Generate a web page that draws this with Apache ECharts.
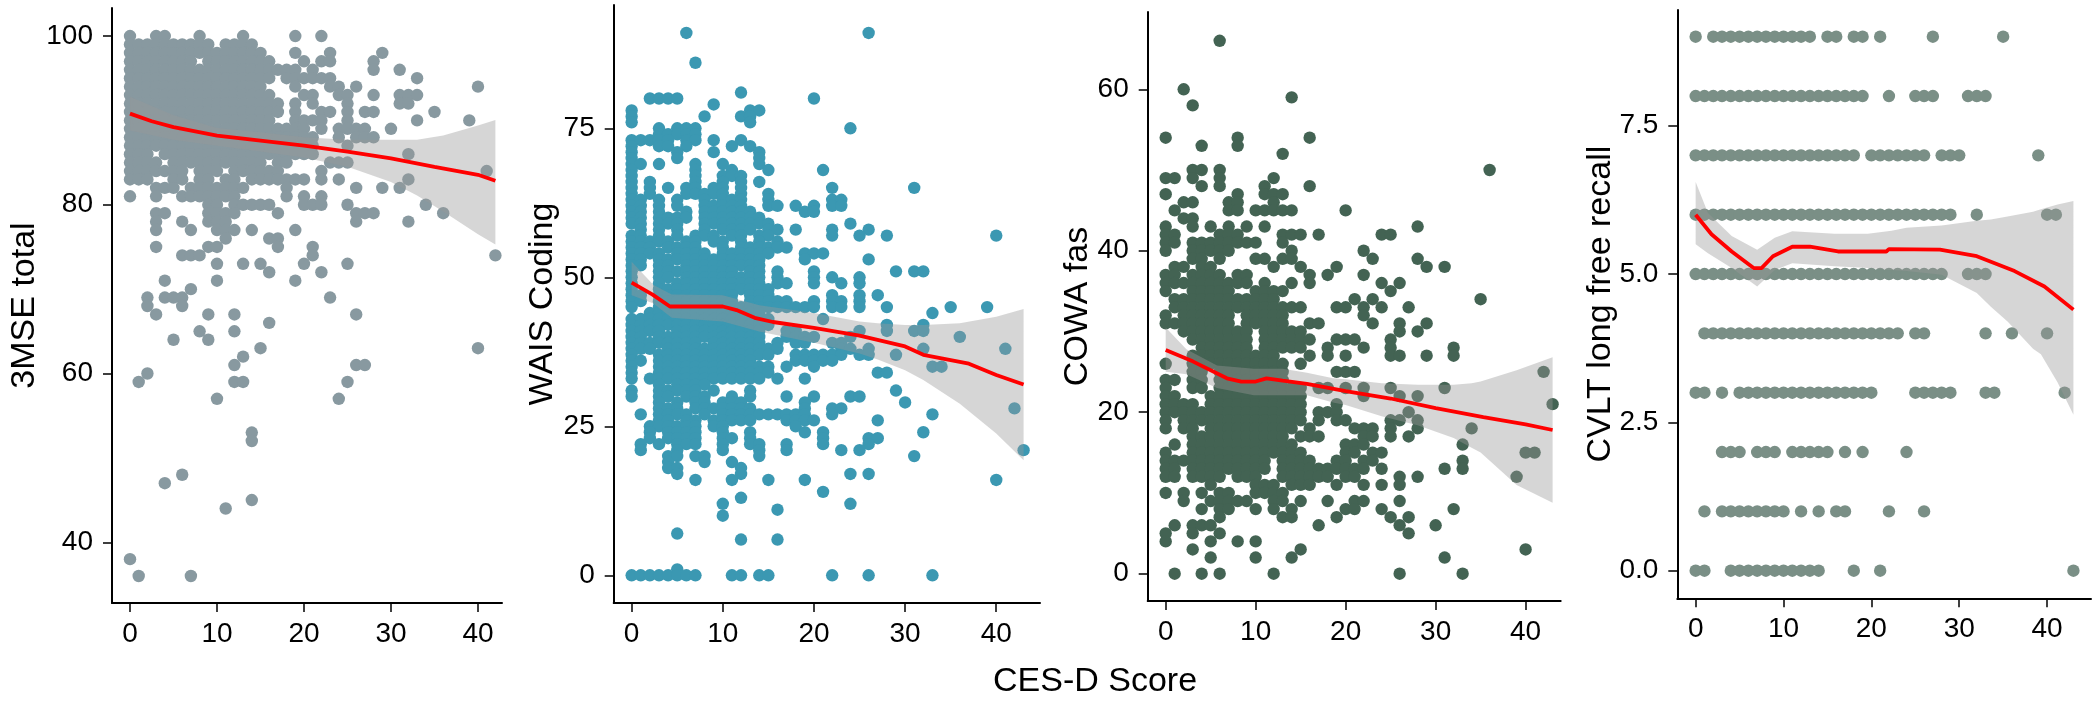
<!DOCTYPE html>
<html><head><meta charset="utf-8">
<script src="https://cdn.jsdelivr.net/npm/echarts@6/dist/echarts.min.js"></script>
<style>html,body{margin:0;padding:0;background:#fff}#c{width:2099px;height:702px}</style>
</head><body><div id="c"></div>
<script>
// Each row: [y value, x values of the dots on that row...]
const rows3MSE = [
[100,0,3,4,8,13,19,22],
[99,0,1,2,3,4,5,6,7,8,9,11,12,13,14],
[98,0,1,2,3,4,5,6,7,8,9,10,11,12,13,14,15,19,23,29],
[97,0,1,2,3,4,5,6,7,9,10,11,12,13,14,15,16,20,22,23,28],
[96,0,1,2,3,4,5,6,7,8,9,10,11,12,13,14,15,16,17,18,19,21,28,31],
[95,0,1,2,3,4,5,6,7,8,9,10,11,12,13,14,15,16,18,19,20,21,22,23,33],
[94,0,1,2,3,4,5,6,7,8,9,10,11,12,13,14,15,19,23,24,26,40],
[93,0,1,2,3,4,5,6,7,8,9,10,11,12,13,14,15,16,20,21,24,25,28,31,32,33],
[92,0,1,2,3,4,5,6,7,8,9,10,11,12,13,14,15,16,17,19,21,25,31,32],
[91,0,1,2,3,4,5,6,7,8,9,10,11,12,13,14,15,16,17,19,22,23,25,27,28,35],
[90,0,1,2,3,4,5,6,7,8,9,10,11,12,13,14,15,16,19,20,21,22,25,33,39],
[89,0,1,2,3,4,5,6,7,8,9,10,11,12,13,14,15,16,17,18,19,20,22,24,25,26,27,30],
[88,0,1,2,3,4,5,6,7,8,9,10,11,12,13,14,15,16,17,18,19,20,21,24,26,27,28],
[87,0,1,2,3,4,5,6,7,8,9,10,11,12,13,14,15,16,17,18,19,20,21,25],
[86,0,1,2,4,5,6,7,8,9,10,11,12,13,14,15,16,17,18,19,20,21,32],
[85,0,1,2,3,5,6,7,8,9,10,11,12,13,14,15,17,18,23,24,25],
[84,0,1,2,3,4,5,6,8,9,10,12,13,14,15,16,17,22,41],
[83,0,1,2,5,6,8,9,11,12,14,15,16,17,18,19,20,22,24,32],
[82,3,4,5,7,8,9,10,11,12,13,18,26,29,31],
[81,0,3,6,7,8,9,10,11,12,18,20,22],
[80,9,10,12,13,14,15,16,20,21,22,25,34],
[79,3,4,9,10,11,12,17,26,27,28,36],
[78,3,6,9,10,11,26,32],
[77,3,7,10,11,12,14,19],
[76,11,16,17],
[75,3,9,10,17,21],
[74,6,7,8,21,42],
[73,10,13,15,20,25],
[72,16,22],
[71,4,10,19],
[70,7],
[69,2,4,5,6,23],
[68,2,6],
[67,3,9,12,26],
[66,16],
[65,8,12],
[64,5,9],
[63,15,40],
[62,13],
[61,12,26,27],
[60,2],
[59,1,12,13,25],
[57,10,24],
[53,14],
[52,14],
[48,6],
[47,4],
[45,14],
[44,11],
[38,0],
[36,1,7]
];
const lineX3MSE = [0,2.5,5,10,15,20,25,30,35,40,42];
const lineY3MSE = [90.8,89.9,89.2,88.2,87.6,87,86.3,85.5,84.5,83.55,82.84];
const bandX3MSE = [0,5,10,15,20,25,30,33,36,40,42];
const bandLow3MSE = [88.8,87.7,87,86.3,85.6,84.5,82.7,81.1,79.2,76.5,75.3];
const bandHigh3MSE = [92.8,90.6,89.1,88.6,88,87.7,87.7,87.7,88.2,89.4,90.06];

const rowsWAIS = [
[91,6,26],[86,7],[81,12],[80,2,3,4,5,20],[79,9],
[78,0,13,14],[77,0,8,12,13],[76,0,13],
[75,3,5,6,7,24],[74,3,4,5,6,7],
[73,0,1,2,3,4,6,7,9,12],[72,0,3,4,6,11,13],[71,0,5,9,14],[70,0,5,14],
[69,0,1,3,7,10,14],[68,0,7,11,15,21],[67,0,7,10,11,12],[66,0,2,7,10,12,14],
[65,0,2,4,6,7,9,10,12,22,31],[64,0,2,6,7,8,9,10,12,15],
[63,0,1,3,5,8,10,11,12,15,22,23],[62,0,1,3,5,8,9,10,11,12,15,16,18,20,22,23],
[61,0,1,3,6,8,9,10,11,12,13,19,20],[60,0,1,3,4,5,6,8,9,10,11,12,13,14],
[59,0,1,3,4,5,8,9,10,11,12,13,14,15,24],[58,1,3,5,8,10,11,12,13,15,16,18,22,26],
[57,0,1,3,5,7,8,9,11,12,14,15,22,25,28,40],[56,0,1,2,3,4,6,7,9,10,12,14,16],
[55,0,1,2,4,5,6,7,10,12,13,14,15,16,17],[54,0,1,2,3,5,6,7,8,10,11,12,13,14,15,19,20,21],
[53,0,1,3,4,5,6,7,8,9,10,11,12,13,14,19,26],[52,0,1,3,4,6,7,8,9,10,11,12,13,14],
[51,0,3,4,5,6,7,8,9,10,11,13,14,16,20,29,31,32],[50,0,3,4,6,7,8,9,10,11,12,13,14,16,20,22,25],
[49,0,3,5,6,7,8,9,10,11,12,13,14,16,17,20,23,25],[48,0,3,4,5,6,7,8,9,10,11,12,13,14,15],
[47,0,1,3,4,5,6,7,8,9,10,11,13,14,15,22,25,27],[46,0,1,3,4,5,6,7,8,9,10,11,13,14,15,16,17,20,22,23,25],
[45,0,3,4,5,6,7,8,9,10,11,12,13,14,15,16,17,18,19,20,22,23,25,28,35,39],
[44,2,3,4,5,6,7,8,9,10,11,12,13,14,33],[43,0,1,2,3,4,5,6,7,8,9,10,11,12,13,14,15,21],
[42,0,1,2,3,4,5,6,7,8,9,10,11,12,13,14,15,28,32],[41,0,1,2,3,5,6,7,8,9,10,11,12,13,14,17,18,25,28,31,32],
[40,0,1,3,4,5,6,7,8,9,10,11,12,13,14,17,18,19,20,24,36],[39,0,1,2,3,4,5,6,7,9,10,11,12,13,14,16,18,19,22,23],
[38,0,1,2,4,5,6,7,8,9,10,11,12,13,14,15,16,23,24,26,32,41],
[37,0,3,4,5,6,7,8,9,10,11,12,13,14,15,18,19,20,21,22,23,25,26,29],
[36,0,1,3,4,5,6,7,8,9,10,11,12,13,18,19,20,21,22],
[35,0,3,4,5,6,7,8,9,10,11,12,13,14,15,17,20,33,34],
[34,0,3,4,5,6,7,8,9,10,11,12,13,14,15,27,28],
[33,0,2,3,4,5,6,7,8,9,10,11,12,13,14,16,19],
[32,3,5,6,7,8],[31,0,3,4,5,6,7,9,13,29],[30,0,3,4,6,7,8,11,13,17,20,24,25],
[29,3,5,7,8,10,11,12,19,30],[28,3,4,5,7,8,9,10,11,12,13,19,22,23,42],
[27,1,3,4,5,6,8,10,11,12,13,14,15,16,17,18,19,22,33],[26,3,4,6,7,9,10,11,12,13,17,18,19,20,27],
[25,2,3,4,5,6,7,9,10,18],[24,2,4,5,6,7,10,13,19,21,32],[23,2,4,5,6,7,10,11,13,21,26,27],
[22,1,3,5,6,7,10,13,14,17,21,26],[21,1,5,10,14,17,23,25,43],[20,4,5,7,8,14,31],
[19,4,8,11],[18,4,5,12],[17,5,12,24,26],[16,7,11,15,19,40],[14,21],[13,12],[12,10,24],[11,16],[10,10],
[7,5],[6,12,16],[1,5],[0,0,1,2,3,4,5,6,7,11,12,14,15,22,26,33]
];
const lineXWAIS = [0,2.3,4.2,10,11.5,13.5,15.5,20,25,30,32,37,40,43];
const lineYWAIS = [49.1,47.1,45.1,45.1,44.5,43.2,42.5,41.5,40.2,38.4,37,35.5,33.6,32];
const bandXWAIS = [0,2.4,4.4,10,14,20,25,27,30,32,36,40,43];
const bandLowWAIS = [47,45.6,43.2,42.6,40.9,39,37.2,36.2,34.4,32.75,28.8,23.8,19.3];
const bandHighWAIS = [52.6,48.7,47.1,47,45.3,44,42.6,42.3,42,42,42.3,43.4,44.7];

const rowsCOWA = [
[66,6],[60,2],[59,14],[58,3],[54,0,8,16],[53,4,8],[52,13],[50,3,4,6,36],[49,0,1,3,6,12],
[48,4,6,11,16],[47,0,8,11,12,13],[46,2,3,7,8,12],[45,1,7,8,10,11,12,13,14,20],[44,2,3],
[43,0,3,5,7,9,11,28],[42,0,1,6,7,8,13,14,15,17,24,25],[41,0,1,3,4,5,6,7,8,9,10,13],
[40,0,3,4,5,6,7,14,22],[39,3,4,6,10,11,13,14,23,28],[38,1,2,4,5,12,15,19,29,31],
[37,0,1,3,4,5,6,8,9,16,18,22],[36,0,1,2,3,4,5,6,7,8,9,11,14,16,24,26],
[35,0,3,4,5,6,7,10,11,12,13,25],[34,1,2,3,4,5,6,7,8,9,10,11,12,21,23,35],
[33,1,2,3,4,5,6,7,8,9,10,11,12,13,14,15,19,20,22,24,27],[32,0,2,3,4,5,6,7,9,10,11,12,13,22],
[31,0,1,2,3,4,5,6,7,9,10,11,12,13,16,17,23,26,29],[30,2,3,4,5,6,7,8,9,11,12,13,14,15,26,28],
[29,3,4,5,6,7,8,9,11,12,13,14,15,16,19,20,21,25],[28,4,5,6,7,8,9,11,12,13,14,15,18,22,25,32],
[27,3,4,5,6,7,8,9,10,11,12,16,18,20,25,26,29,32],[26,0,3,4,5,6,7,8,9,10,11,12,13,15],
[25,3,4,6,7,8,9,10,11,12,13,19,20,21,42],[24,0,1,3,4,6,7,8,9,10,11,12,13],
[23,0,3,4,6,7,8,9,10,11,12,13,14,15,17,18,20,22,25,31],[22,0,1,5,6,7,8,9,10,11,12,13,14,15,22,26,28],
[21,0,1,2,3,5,6,7,8,9,10,11,12,13,14,15,19,43],[20,0,1,2,3,4,5,6,7,8,9,10,11,12,13,14,15,17,18,19,27],
[19,0,2,3,4,5,6,7,8,9,10,11,12,13,14,15,17,19,20,25,26,28],
[18,0,2,3,5,6,7,8,9,10,11,12,13,14,16,21,22,23,25,28,34],
[17,3,4,5,6,7,8,9,10,11,12,13,15,16,17,22,23,25,27],[16,1,3,4,5,6,7,8,9,10,11,12,13,14,20,21,22,33],
[15,0,3,4,5,6,7,8,9,10,11,12,13,14,15,20,21,23,24,40,41],
[14,0,1,2,3,4,5,6,7,8,9,10,11,13,14,15,16,19,20,22,23,33],
[13,0,1,3,4,5,6,7,8,9,10,11,13,14,15,16,17,18,19,20,21,22,24,31,33],
[12,0,1,3,4,5,6,8,9,10,13,14,15,16,17,18,20,21,26,28,39],
[11,5,10,11,12,14,15,16,19,22,24,26],[10,0,2,4,6,7,10,11,12,13],
[9,2,5,6,7,8,9,12,13,15,18,21,22,26],[8,4,6,7,10,12,14,20,21,24,32],[7,6,13,14,19,25,27],
[6,1,3,4,5,17,26,30],[5,0,3,6,27],[4,0,5,8,10],[3,3,15,40],[2,5,10,14,31],[0,1,4,6,12,26,33]
];
const lineXCOWA = [0,3,6.8,8.4,10,11.2,13,15.7,20,25,30,35.3,40,43];
const lineYCOWA = [27.7,26.3,24.2,23.8,23.8,24.2,23.9,23.5,22.6,21.7,20.5,19.4,18.5,17.8];
const bandXCOWA = [0,2.3,5.7,9.8,13,15.7,18.6,20,24,28,32,34,35,39,43];
const bandLowCOWA = [25,24.7,23,22.1,22.1,22.1,21.2,20.9,19.5,18.4,16.8,15.6,15,11,8.8];
const bandHighCOWA = [30.5,27.8,25.8,25.4,25.4,24.9,24.2,24.1,23.6,23.4,23.4,23.6,23.8,25.2,26.8];

const rowsCVLT = [
[9,0,2,3,4,5,6,7,8,9,10,11,12,13,15,16,18,19,21,27,35],
[8,0,1,2,3,4,5,6,7,8,9,10,11,12,13,14,15,16,17,18,19,22,25,26,27,31,32,33],
[7,0,1,2,3,4,5,6,7,8,9,10,11,12,13,14,15,16,17,18,20,21,22,23,24,25,26,28,29,30,39],
[6,0,1,2,3,4,5,6,7,8,9,10,11,12,13,14,15,16,17,18,19,20,21,22,23,24,25,26,27,28,29,32,40,41],
[5,0,1,2,3,4,5,6,7,8,9,10,11,12,13,14,15,16,17,18,19,20,21,22,23,24,25,26,27,28,31,32,33],
[4,1,2,3,4,5,6,7,8,9,10,11,12,13,14,15,16,17,18,19,20,21,22,23,25,26,33,36,40],
[3,0,1,3,5,6,7,8,9,10,11,12,13,14,15,16,17,18,19,20,25,26,27,28,29,33,34,42],
[2,3,4,5,7,8,9,11,12,13,14,15,17,19,24],
[1,1,3,4,5,6,7,8,9,10,12,14,16,17,22,26],
[0,0,1,4,5,6,7,8,9,10,11,12,13,14,18,21,43]
];
const lineXCVLT = [0,1.8,4.1,6.6,7.5,8.8,11,13,16.2,21.7,22,27.8,32,36.3,39.7,43];
const lineYCVLT = [6,5.67,5.38,5.1,5.1,5.3,5.46,5.46,5.38,5.38,5.42,5.41,5.3,5.05,4.79,4.4];
const bandXCVLT = [0,1.4,4.1,7,9,11,15.8,19.6,22.3,24,28,32,33.6,35.5,38.4,39.3,41.2,43];
const bandLowCVLT = [5.5,5.35,5.1,4.79,5.07,5.18,5.13,5.1,5.07,5.05,4.99,4.68,4.45,4.2,3.74,3.65,3.17,2.63];
const bandHighCVLT = [6.55,6.03,5.64,5.41,5.61,5.72,5.68,5.68,5.73,5.78,5.82,5.9,5.92,5.97,6.05,6.09,6.17,6.23];

const xTicks = [0,10,20,30,40];
const yTicks3MSE = [40,60,80,100];
const yTicksWAIS = [0,25,50,75];
const yTicksCOWA = [0,20,40,60];
const yTicksCVLT = [0,2.5,5,7.5];
const yTitles = ['3MSE total','WAIS Coding','COWA fas','CVLT long free recall'];
const xTitle = 'CES-D Score';

const W = 2099, H = 702, FONT = '"Liberation Sans", Arial, sans-serif';
const panels = [
 {rows:rows3MSE,lx:lineX3MSE,ly:lineY3MSE,bx:bandX3MSE,lo:bandLow3MSE,hi:bandHigh3MSE,yt:yTicks3MSE,color:'#8899A0',
  box:[112,8,502,603],x:[-2.07,42.76],y:[32.8,103.32],gap:70,fmt:v=>String(v)},
 {rows:rowsWAIS,lx:lineXWAIS,ly:lineYWAIS,bx:bandXWAIS,lo:bandLowWAIS,hi:bandHighWAIS,yt:yTicksWAIS,color:'#3B98B2',
  box:[613.7,5,1040,603],x:[-1.97,44.8],y:[-4.65,95.69],gap:54,fmt:v=>String(v)},
 {rows:rowsCOWA,lx:lineXCOWA,ly:lineYCOWA,bx:bandXCOWA,lo:bandLowCOWA,hi:bandHighCOWA,yt:yTicksCOWA,color:'#436353',
  box:[1147.7,12,1560.7,601],x:[-2,43.9],y:[-3.38,69.57],gap:53,fmt:v=>String(v)},
 {rows:rowsCVLT,lx:lineXCVLT,ly:lineYCVLT,bx:bandXCVLT,lo:bandLowCVLT,hi:bandHighCVLT,yt:yTicksCVLT,color:'#7A8F86',
  box:[1677.3,10,2091,598.3],x:[-2.09,45],y:[-0.465,9.45],gap:60,fmt:v=>v.toFixed(1)}
];
const INK = '#000000';
const axisCommon = {
  axisLine:{show:true,onZero:false,lineStyle:{color:INK,width:2}},
  axisTick:{show:true,length:9,lineStyle:{color:INK,width:1.5}},
  splitLine:{show:false}
};
const grid=[],xAxis=[],yAxis=[],series=[];
panels.forEach((p,i)=>{
  grid.push({left:p.box[0],top:p.box[1],width:p.box[2]-p.box[0],height:p.box[3]-p.box[1],outerBoundsMode:'none',containLabel:false});
  xAxis.push(Object.assign({},axisCommon,{type:'value',gridIndex:i,min:p.x[0],max:p.x[1],
    axisTick:Object.assign({},axisCommon.axisTick,{customValues:xTicks}),
    axisLabel:{customValues:xTicks,margin:17,color:INK,fontFamily:FONT,fontSize:28,showMinLabel:true,showMaxLabel:true}}));
  yAxis.push(Object.assign({},axisCommon,{type:'value',gridIndex:i,min:p.y[0],max:p.y[1],
    name:yTitles[i],nameLocation:'middle',nameRotate:90,nameGap:p.gap,nameMoveOverlap:false,
    nameTextStyle:{color:INK,fontFamily:FONT,fontSize:34},
    axisTick:Object.assign({},axisCommon.axisTick,{customValues:p.yt}),
    axisLabel:{customValues:p.yt,margin:19,color:INK,fontFamily:FONT,fontSize:28,formatter:p.fmt}}));
  const pts=[];
  p.rows.forEach(r=>{for(let k=1;k<r.length;k++)pts.push([r[k],r[0]]);});
  series.push({type:'scatter',xAxisIndex:i,yAxisIndex:i,data:pts,symbol:'circle',symbolSize:12.4,
    itemStyle:{color:p.color,opacity:1},z:2,silent:true,clip:false,animation:false,large:false});
  const band=p.bx.map((x,k)=>[x,p.lo[k],p.hi[k]]);
  series.push({type:'custom',xAxisIndex:i,yAxisIndex:i,data:band,encode:{x:0,y:[1,2]},z:3,silent:true,animation:false,clip:false,
    renderItem:(params,api)=>{
      if(params.dataIndex!==0) return null;
      const up=band.map(b=>api.coord([b[0],b[2]]));
      const dn=band.map(b=>api.coord([b[0],b[1]])).reverse();
      return {type:'polygon',shape:{points:up.concat(dn)},style:{fill:'rgba(153,153,153,0.4)',stroke:null}};
    }});
  series.push({type:'line',xAxisIndex:i,yAxisIndex:i,data:p.lx.map((x,k)=>[x,p.ly[k]]),showSymbol:false,symbol:'none',
    lineStyle:{color:'#FF0000',width:3.8},z:4,silent:true,animation:false,clip:false});
});
const chart=echarts.init(document.getElementById('c'),null,{renderer:'canvas',width:W,height:H});
chart.setOption({
  backgroundColor:'#ffffff',animation:false,
  title:{text:xTitle,left:988,top:660,textStyle:{color:INK,fontFamily:FONT,fontSize:34,fontWeight:'normal'}},
  grid,xAxis,yAxis,series
});
</script></body></html>
